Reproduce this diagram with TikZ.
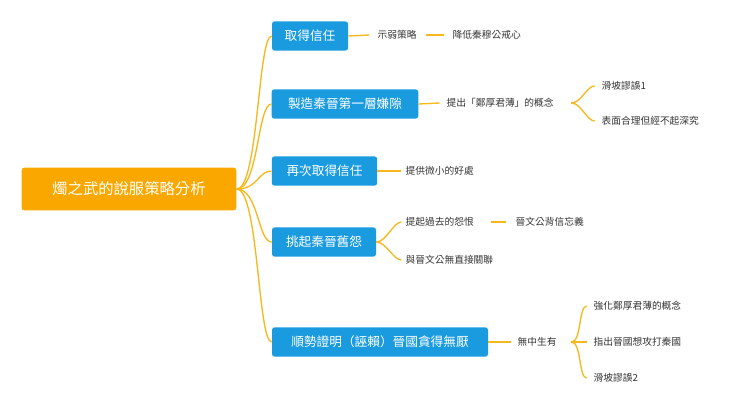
\documentclass[tikz,border=0pt]{standalone}
\usepackage{fontspec}
\setmainfont{Noto Sans CJK TC}
\usetikzlibrary{positioning}
\definecolor{rootc}{HTML}{FAA800}
\definecolor{topicc}{HTML}{1A9BE0}
\definecolor{linec}{HTML}{F6B81C}
\definecolor{txtc}{HTML}{333333}
\tikzset{
  root/.style={fill=rootc,text=white,rounded corners=2pt,minimum height=32pt,inner xsep=10pt,font=\fontsize{11.5}{13}\selectfont},
  topic/.style={fill=topicc,text=white,rounded corners=2pt,minimum height=22pt,inner xsep=9pt,font=\fontsize{9.5}{11}\selectfont},
  leaf/.style={text=txtc,inner sep=1pt,anchor=west,font=\fontsize{7.3}{8}\selectfont},
  branch/.style={draw=linec,line width=1pt}
}
\begin{document}
\begin{tikzpicture}[x=0.75pt,y=-0.75pt]
\useasboundingbox (0,0) rectangle (740,411);
% main nodes
\node[root,minimum width=161pt](main) at (129,189){燭之武的說服策略分析};
\node[topic,minimum width=57pt](t1) at (310,36){取得信任};
\node[topic,minimum width=110pt](t2) at (345,104){製造秦晉第一層嫌隙};
\node[topic,minimum width=79pt](t3) at (324.5,171){再次取得信任};
\node[topic,minimum width=78pt](t4) at (324,242){挑起秦晉舊怨};
\node[topic,minimum width=162pt](t5) at (380,342){順勢證明（誣賴）晉國貪得無厭};
% leaves
\node[leaf](a1) at (376,35){示弱策略};
\node[leaf](a2) at (451,35){降低秦穆公戒心};
\node[leaf](b1) at (445,103){提出「鄭厚君薄」的概念};
\node[leaf](b2) at (600,86){滑坡謬誤1};
\node[leaf](b3) at (600,121){表面合理但經不起深究};
\node[leaf](c1) at (404,171){提供微小的好處};
\node[leaf](d1) at (404,222){提起過去的怨恨};
\node[leaf](d2) at (514,222){晉文公背信忘義};
\node[leaf](d3) at (404,260){與晉文公無直接關聯};
\node[leaf](e1) at (516,342){無中生有};
\node[leaf](e2) at (592,306){強化鄭厚君薄的概念};
\node[leaf](e3) at (592,342){指出晉國想攻打秦國};
\node[leaf](e4) at (592,378){滑坡謬誤2};
% connectors
\foreach \t in {t1,t2,t3,t4,t5}
  \draw[branch] (main.east) .. controls +(22,0) and +(-14,0) .. (\t.west);
\draw[branch] (t1.east) -- ([xshift=-5pt]a1.west);
\draw[branch] ([xshift=6pt]a1.east) -- ([xshift=-5pt]a2.west);
\draw[branch] (t2.east) -- ([xshift=-4pt]b1.west);
\foreach \c in {b2,b3}
  \draw[branch] ([xshift=12pt]b1.east) .. controls +(10,0) and +(-8,0) .. ([xshift=-4pt]\c.west);
\draw[branch] (t3.east) -- ([xshift=-2pt]c1.west);
\foreach \c in {d1,d3}
  \draw[branch] (t4.east) .. controls +(10,0) and +(-8,0) .. ([xshift=-2pt]\c.west);
\draw[branch] ([xshift=12pt]d1.east) -- ([xshift=-6pt]d2.west);
\draw[branch] (t5.east) -- ([xshift=-4pt]e1.west);
\foreach \c in {e2,e3,e4}
  \draw[branch] ([xshift=10pt]e1.east) .. controls +(10,0) and +(-8,0) .. ([xshift=-4pt]\c.west);
\end{tikzpicture}
\end{document}
